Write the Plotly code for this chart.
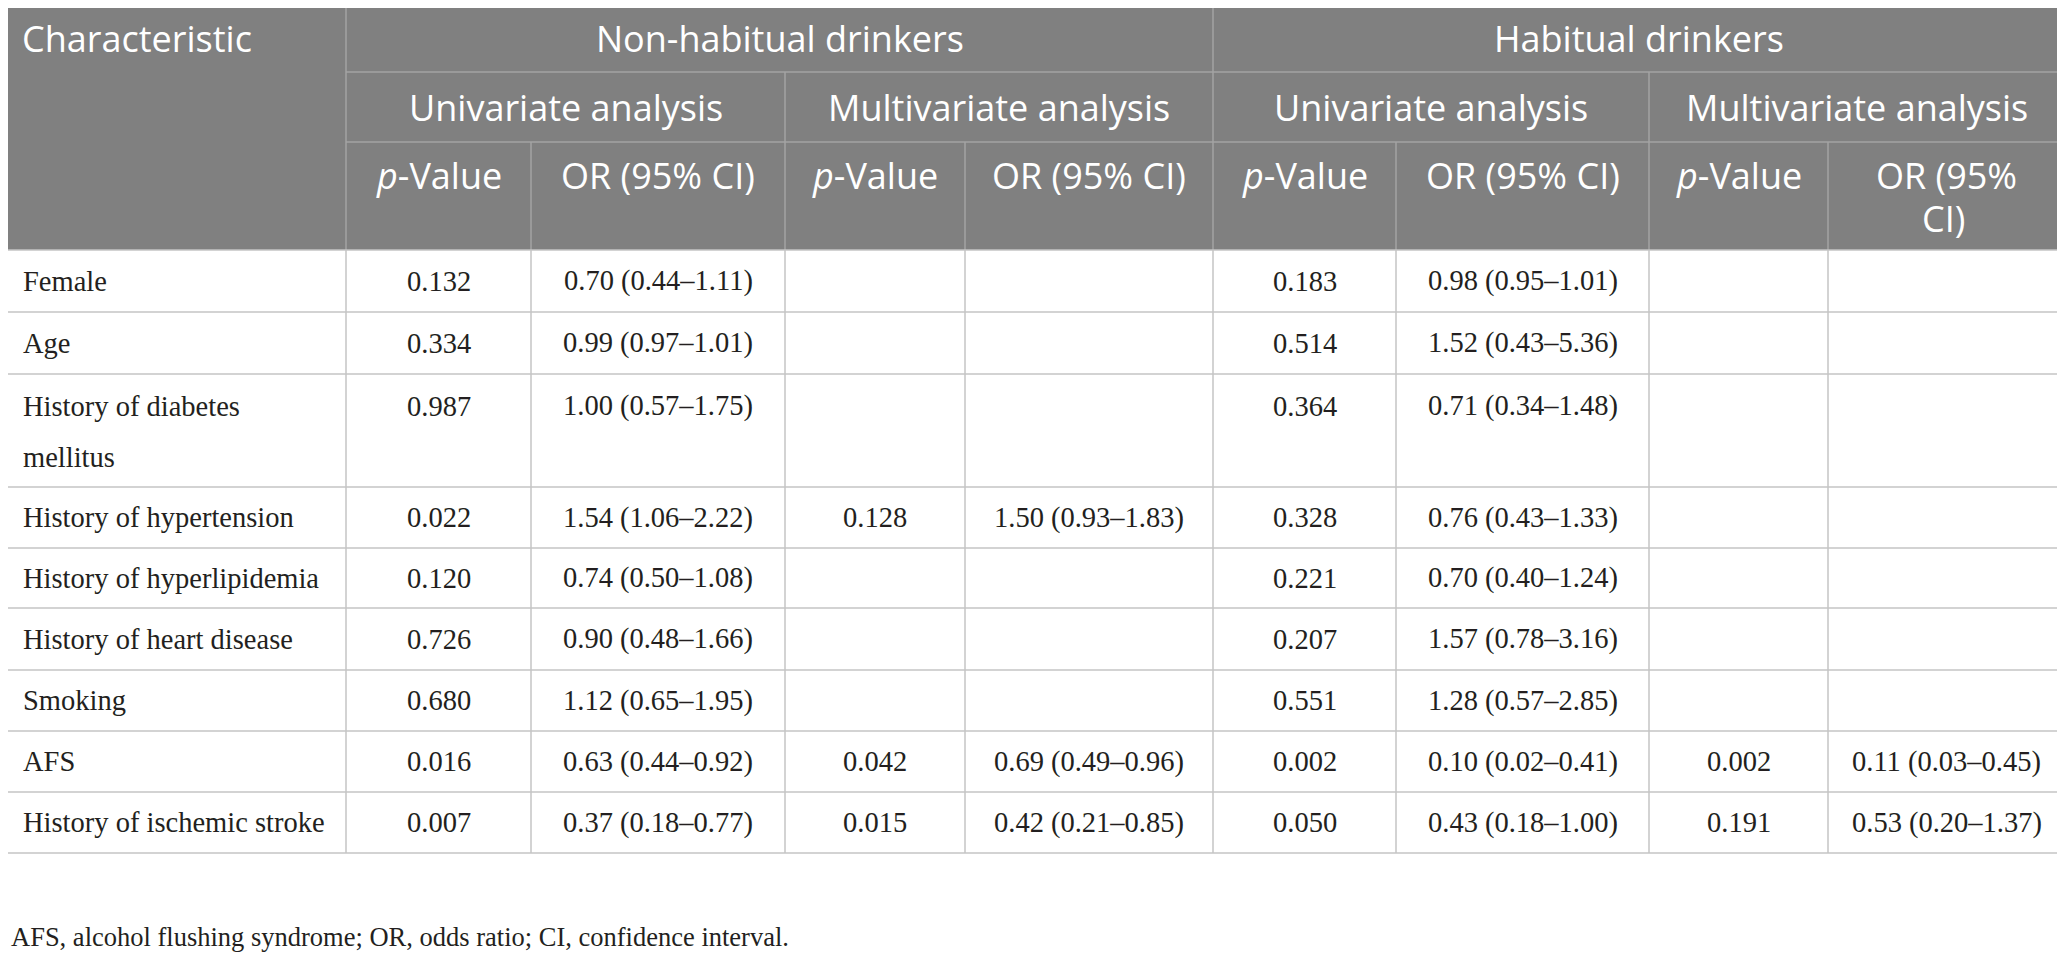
import plotly.graph_objects as go

# ── data ─────────────────────────────────────────────────────────────────────
CHARACTERISTICS = [
    "Female", "Age", "History of diabetes<br>mellitus", "History of hypertension",
    "History of hyperlipidemia", "History of heart disease", "Smoking", "AFS",
    "History of ischemic stroke",
]
NH_UNI_P  = ["0.132", "0.334", "0.987", "0.022", "0.120", "0.726", "0.680", "0.016", "0.007"]
NH_UNI_OR = ["0.70 (0.44–1.11)", "0.99 (0.97–1.01)", "1.00 (0.57–1.75)", "1.54 (1.06–2.22)",
             "0.74 (0.50–1.08)", "0.90 (0.48–1.66)", "1.12 (0.65–1.95)", "0.63 (0.44–0.92)",
             "0.37 (0.18–0.77)"]
NH_MUL_P  = ["", "", "", "0.128", "", "", "", "0.042", "0.015"]
NH_MUL_OR = ["", "", "", "1.50 (0.93–1.83)", "", "", "", "0.69 (0.49–0.96)", "0.42 (0.21–0.85)"]
H_UNI_P   = ["0.183", "0.514", "0.364", "0.328", "0.221", "0.207", "0.551", "0.002", "0.050"]
H_UNI_OR  = ["0.98 (0.95–1.01)", "1.52 (0.43–5.36)", "0.71 (0.34–1.48)", "0.76 (0.43–1.33)",
             "0.70 (0.40–1.24)", "1.57 (0.78–3.16)", "1.28 (0.57–2.85)", "0.10 (0.02–0.41)",
             "0.43 (0.18–1.00)"]
H_MUL_P   = ["", "", "", "", "", "", "", "0.002", "0.191"]
H_MUL_OR  = ["", "", "", "", "", "", "", "0.11 (0.03–0.45)", "0.53 (0.20–1.37)"]

GROUPS   = ["Non-habitual drinkers", "Habitual drinkers"]
ANALYSES = ["Univariate analysis", "Multivariate analysis"]
FOOTNOTE = "AFS, alcohol flushing syndrome; OR, odds ratio; CI, confidence interval."

# ── layout constants (page pixels) ───────────────────────────────────────────
W, H = 2065, 956
PAD = 8  # default body margin of the html page
COL_X = [0, 346, 531, 785, 965, 1213, 1396, 1649, 1828, 2065]
HEAD_Y = [5, 72, 142, 250]
ROW_Y = [250, 312, 374, 487, 548, 608, 670, 731, 792, 853]

HEAD_BG   = "#808080"
HEAD_LINE = "#a3a3a3"
GRID      = "#c4c4c4"
BODY_TXT  = "#231f20"
HEAD_FONT = dict(family="Open Sans", size=36, color="white")
BODY_FONT = dict(family="Liberation Serif", size=28.5, color=BODY_TXT)
NOTE_FONT = dict(family="Liberation Serif", size=26.5, color=BODY_TXT)

columns = [NH_UNI_P, NH_UNI_OR, NH_MUL_P, NH_MUL_OR, H_UNI_P, H_UNI_OR, H_MUL_P, H_MUL_OR]

fig = go.Figure()
shapes = []
ann = []


def line(x0, y0, x1, y1, color):
    shapes.append(dict(type="line", x0=x0, y0=y0, x1=x1, y1=y1, xref="x", yref="y",
                       line=dict(color=color, width=1.5)))


def text(x, y, s, font, anchor="center"):
    ann.append(dict(x=x, y=y, xref="x", yref="y", text=s, showarrow=False,
                    xanchor=anchor, yanchor="middle", font=font))


# header background
shapes.append(dict(type="rect", x0=0, x1=W, y0=HEAD_Y[0], y1=HEAD_Y[-1], xref="x", yref="y",
                   fillcolor=HEAD_BG, line=dict(width=0), layer="below"))
line(0, HEAD_Y[0], W, HEAD_Y[0], GRID)
# header lines
line(COL_X[1], HEAD_Y[1], W, HEAD_Y[1], HEAD_LINE)
line(COL_X[1], HEAD_Y[2], W, HEAD_Y[2], HEAD_LINE)
for i, x in enumerate(COL_X[1:-1], start=1):
    top = HEAD_Y[0] if i in (1, 5) else HEAD_Y[1] if i in (3, 7) else HEAD_Y[2]
    line(x, top, x, HEAD_Y[-1], HEAD_LINE)

# header text
mid1 = (HEAD_Y[0] + HEAD_Y[1]) / 2
mid2 = (HEAD_Y[1] + HEAD_Y[2]) / 2
text(20, mid1, "Characteristic", HEAD_FONT, "left")
for g, name in enumerate(GROUPS):
    text((COL_X[1 + 4 * g] + COL_X[5 + 4 * g]) / 2, mid1, name, HEAD_FONT)
    for a, an in enumerate(ANALYSES):
        c = 1 + 4 * g + 2 * a
        text((COL_X[c] + COL_X[c + 2]) / 2, mid2, an, HEAD_FONT)
for c in range(8):
    xc = (COL_X[c + 1] + COL_X[c + 2]) / 2
    if c % 2 == 0:
        text(xc, 175, "<i>p</i>-Value", HEAD_FONT)
    elif c == 7:
        text(xc, 175, "OR (95%", HEAD_FONT)
        text(xc - 3, 218, "CI)", HEAD_FONT)
    else:
        text(xc, 175, "OR (95% CI)", HEAD_FONT)

# body grid
for y in ROW_Y:
    line(0, y, W, y, GRID)
for x in COL_X[1:-1]:
    line(x, ROW_Y[0], x, ROW_Y[-1], GRID)

# body text
for r, label in enumerate(CHARACTERISTICS):
    y0, y1 = ROW_Y[r], ROW_Y[r + 1]
    parts = label.split("<br>")
    ty = (y0 + y1) / 2 if len(parts) == 1 else y0 + 32
    for k, p in enumerate(parts):
        text(21, ty + 51 * k, p, BODY_FONT, "left")
    for c, col in enumerate(columns):
        if col[r]:
            text((COL_X[c + 1] + COL_X[c + 2]) / 2, ty, col[r], BODY_FONT)

text(PAD + 1, 937, FOOTNOTE, NOTE_FONT, "left")

fig.update_layout(
    width=W - PAD, height=H - PAD,
    margin=dict(l=0, r=0, t=0, b=0),
    paper_bgcolor="white", plot_bgcolor="white",
    xaxis=dict(range=[PAD, W], visible=False, fixedrange=True),
    yaxis=dict(range=[H, PAD], visible=False, fixedrange=True),
    shapes=shapes, annotations=ann, showlegend=False,
)
fig.write_html("out.html")
